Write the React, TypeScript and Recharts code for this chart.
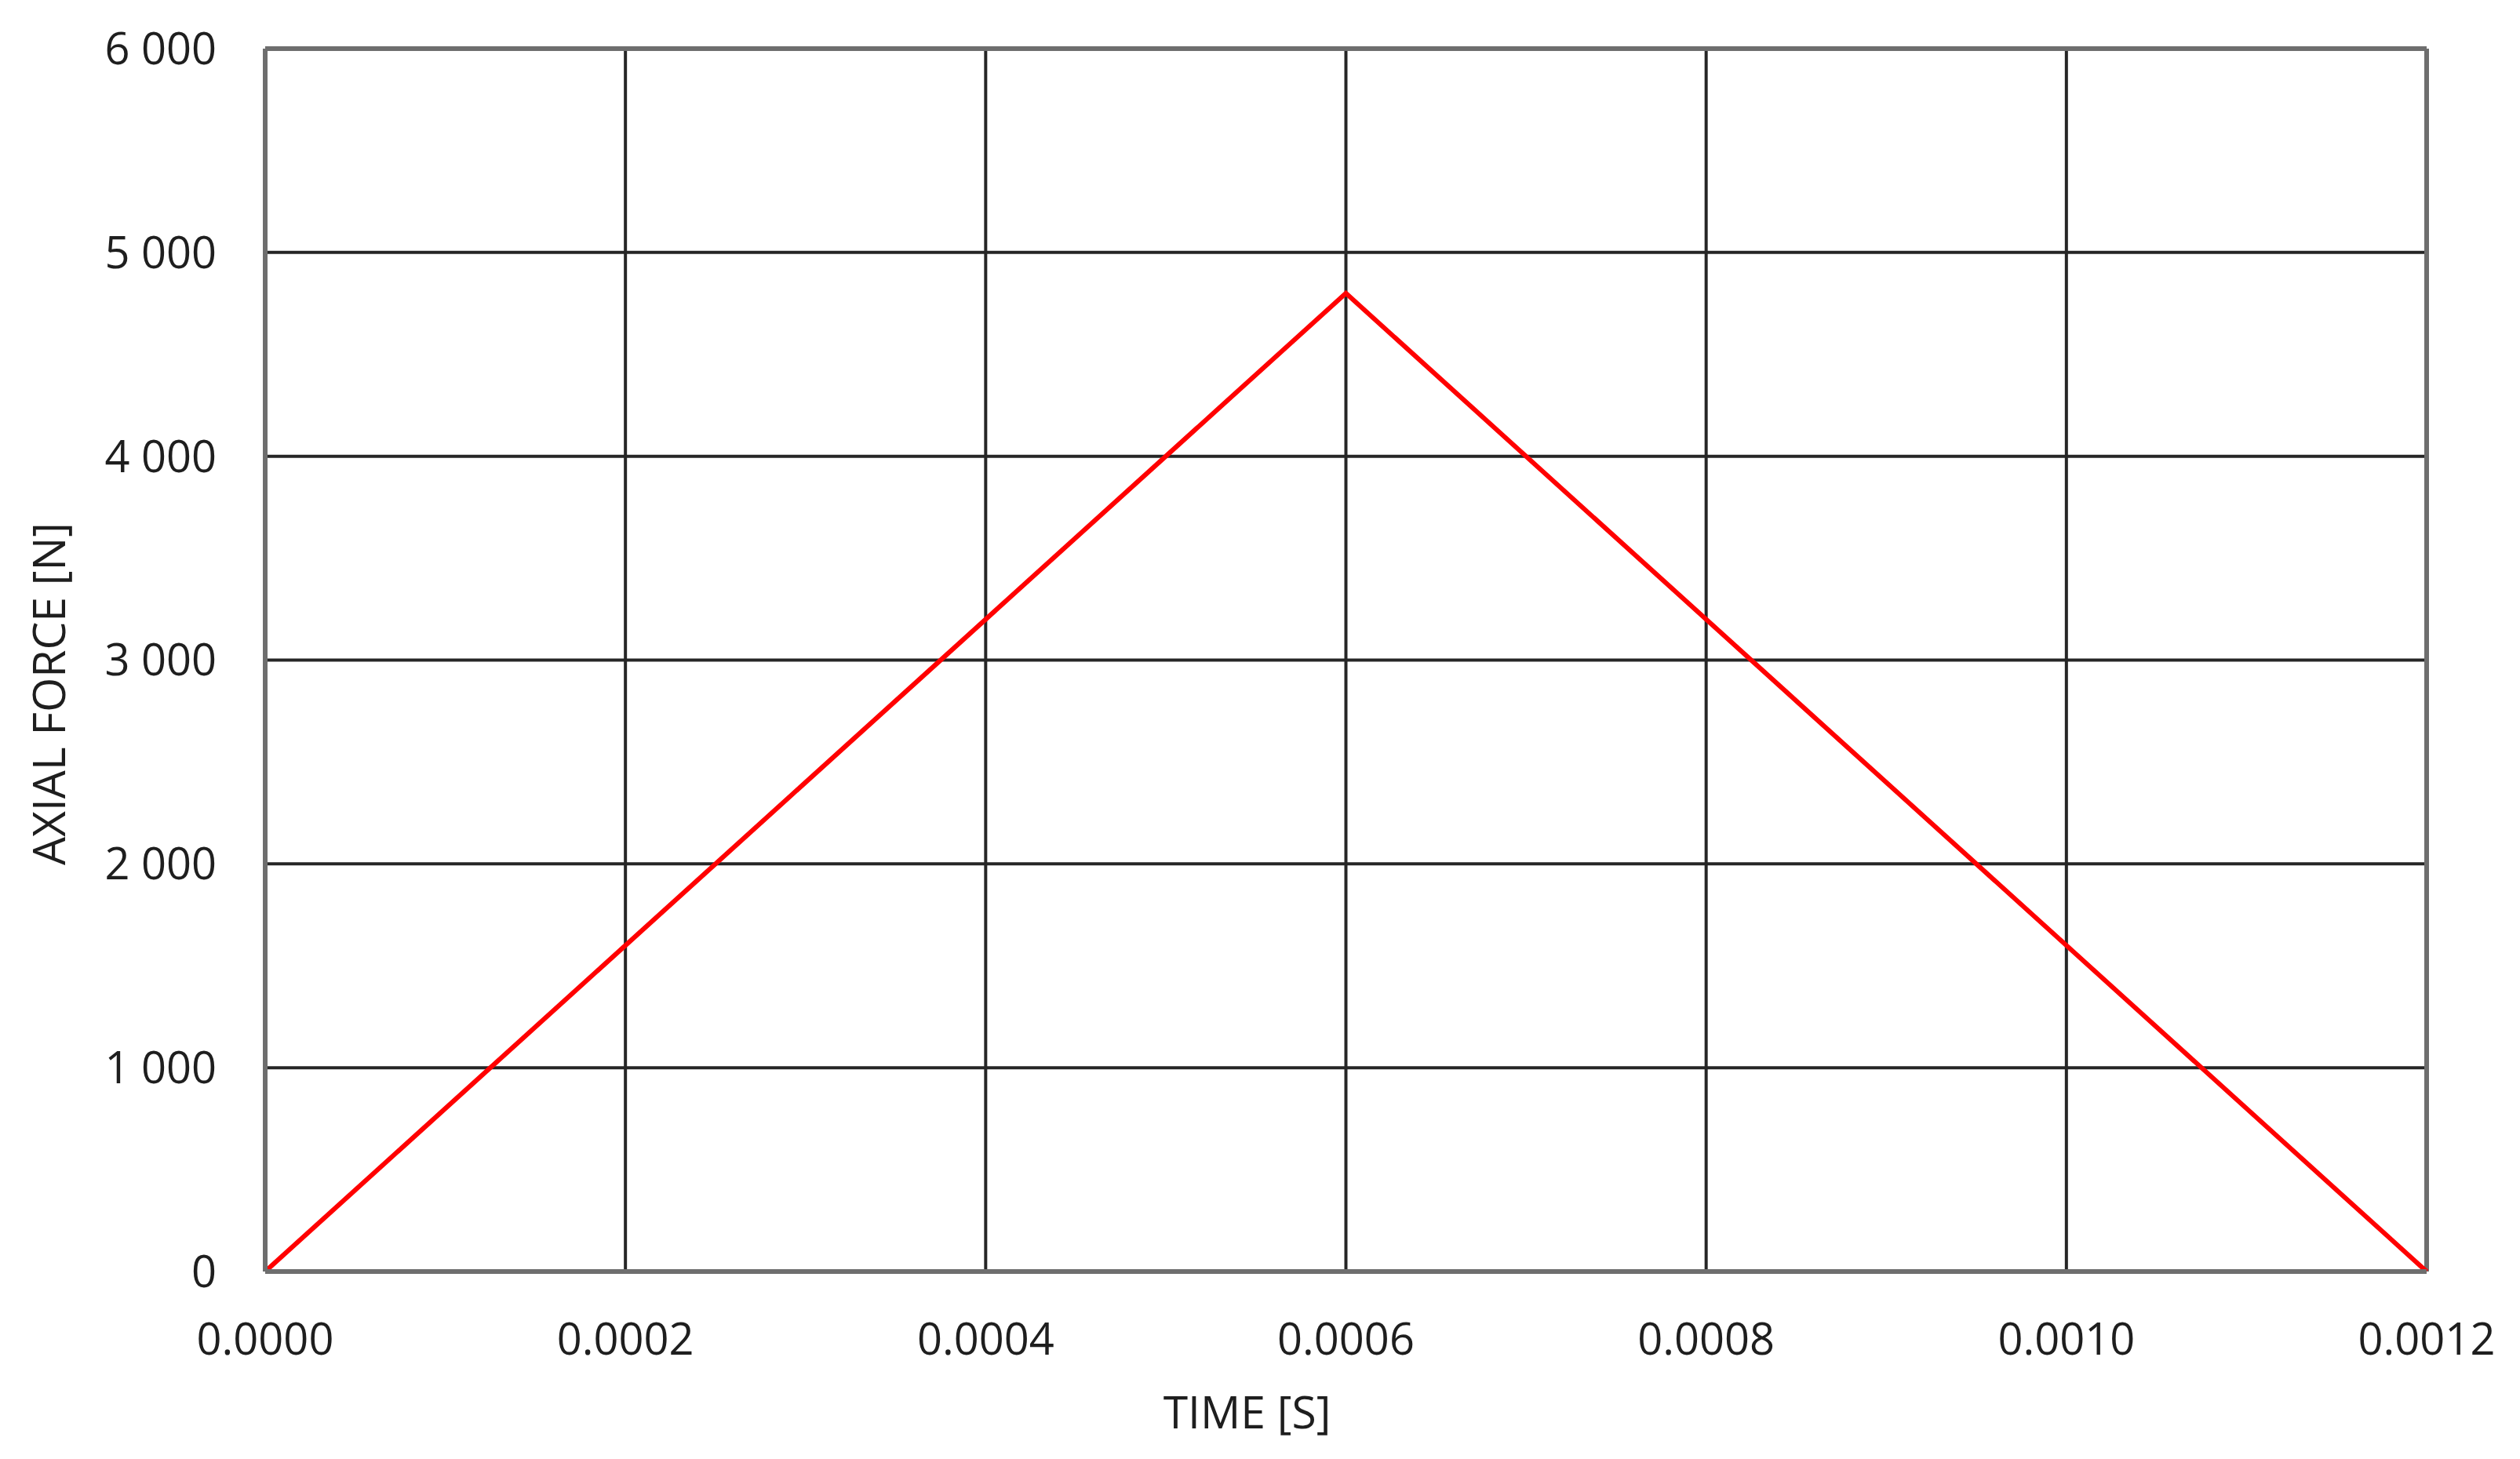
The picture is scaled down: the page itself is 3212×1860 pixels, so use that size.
import React from "react";
import {
  LineChart,
  Line,
  XAxis,
  YAxis,
  CartesianGrid,
  ReferenceLine,
} from "recharts";

// time [s] and axial force [N]
const times = [0, 0.0006, 0.0012];
const forces = [0, 4800, 0];

const xTicks = [0, 0.0002, 0.0004, 0.0006, 0.0008, 0.001, 0.0012];
const yTicks = [0, 1000, 2000, 3000, 4000, 5000, 6000];

const xTitle = "TIME [S]";
const yTitle = "AXIAL FORCE [N]";

const data = times.map((t, i) => ({ t, f: forces[i] }));

const FONT = "'Open Sans', 'Noto Sans', sans-serif";
const TEXT = "#1e1e1e";
const GRID = "#262626";
const BORDER = "#6e6e6e";

const fmtY = (v: number) => {
  const s = String(Math.round(v));
  return s.replace(/\B(?=(\d{3})+(?!\d))/g, " ");
};

export default function App() {
  return (
    <div style={{ position: "fixed", left: 0, top: 0, background: "#fff" }}>
      <LineChart
        width={3212}
        height={1860}
        data={data}
        margin={{ top: 62, right: 119, bottom: 0, left: 0 }}
        style={{ fontFamily: FONT }}
      >
        <CartesianGrid stroke={GRID} strokeWidth={4} />
        <XAxis
          dataKey="t"
          type="number"
          domain={[0, 0.0012]}
          ticks={xTicks}
          tickFormatter={(v: number) => v.toFixed(4)}
          height={239}
          tickLine={false}
          tickSize={0}
          tickMargin={66}
          axisLine={{ stroke: BORDER, strokeWidth: 6 }}
          tick={{ fill: TEXT, fontSize: 56, fontFamily: FONT }}
          interval={0}
          label={{
            content: (p: any) => {
              const vb = p.viewBox || {};
              return (
                <text
                  x={vb.x + vb.width / 2 - 126}
                  y={vb.y + 200}
                  textAnchor="middle"
                  fill={TEXT}
                  fontSize={57}
                  fontFamily={FONT}
                >
                  {xTitle}
                </text>
              );
            },
          }}
        />
        <YAxis
          type="number"
          domain={[0, 6000]}
          ticks={yTicks}
          tickFormatter={fmtY}
          width={338}
          tickLine={false}
          tickSize={0}
          tickMargin={62}
          axisLine={{ stroke: BORDER, strokeWidth: 6 }}
          tick={{ fill: TEXT, fontSize: 56, fontFamily: FONT }}
          interval={0}
          label={{
            content: (p: any) => {
              const vb = p.viewBox || {};
              const cx = vb.x + 61;
              const cy = vb.y + vb.height / 2 + 43;
              return (
                <text
                  x={cx}
                  y={cy}
                  transform={`rotate(-90 ${cx} ${cy})`}
                  textAnchor="middle"
                  dominantBaseline="central"
                  fill={TEXT}
                  fontSize={57}
                  fontFamily={FONT}
                >
                  {yTitle}
                </text>
              );
            },
          }}
        />
        <ReferenceLine y={6000} stroke={BORDER} strokeWidth={6} />
        <ReferenceLine x={0.0012} stroke={BORDER} strokeWidth={6} />
        <Line
          type="linear"
          dataKey="f"
          stroke="#ff0000"
          strokeWidth={6}
          dot={false}
          activeDot={false}
          isAnimationActive={false}
        />
      </LineChart>
    </div>
  );
}
